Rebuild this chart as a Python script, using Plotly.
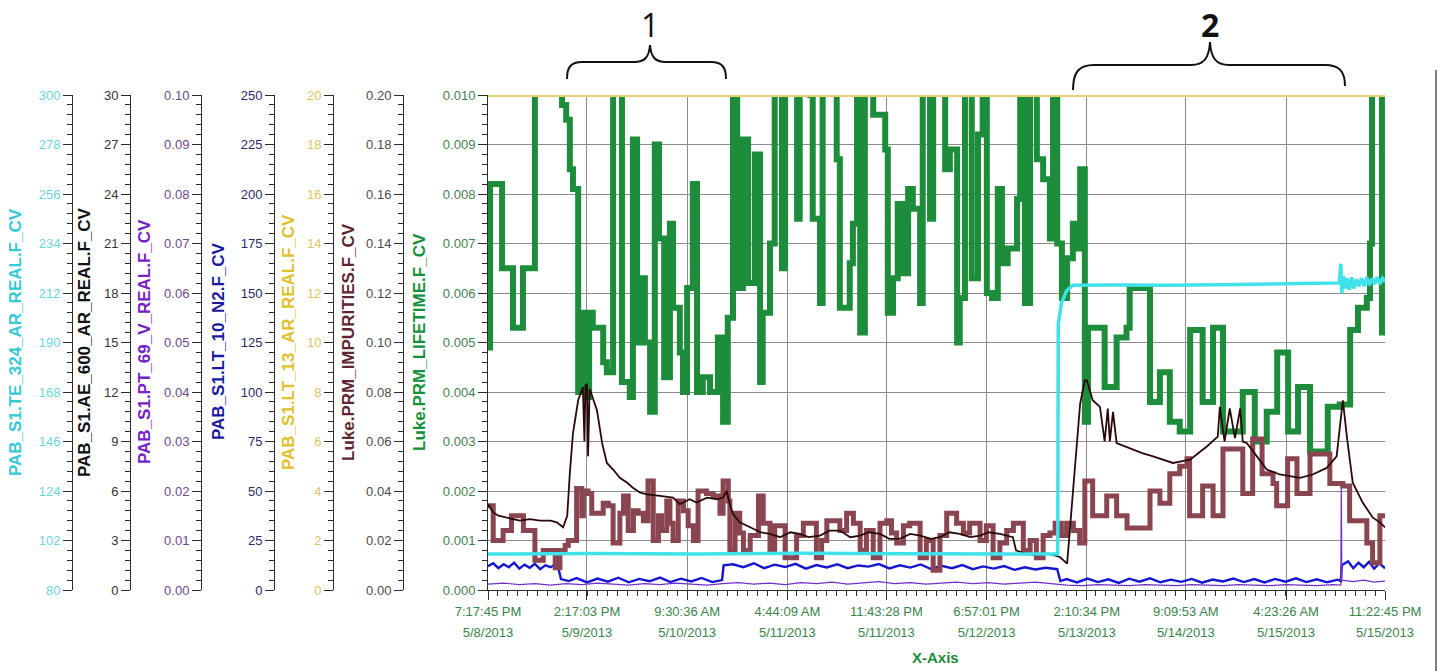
import pandas as pd
import plotly.graph_objects as go

# ---------------------------------------------------------------- data
TIME_FMT = "%m/%d/%Y %I:%M:%S %p"
x_tick_times = ["5/8/2013 7:17:45 PM", "5/9/2013 2:17:03 PM", "5/10/2013 9:30:36 AM",
                "5/11/2013 4:44:09 AM", "5/11/2013 11:43:28 PM", "5/12/2013 6:57:01 PM",
                "5/13/2013 2:10:34 PM", "5/14/2013 9:09:53 AM", "5/15/2013 4:23:26 AM",
                "5/15/2013 11:22:45 PM"]
x_tick_time_labels = ["7:17:45 PM", "2:17:03 PM", "9:30:36 AM", "4:44:09 AM", "11:43:28 PM",
                      "6:57:01 PM", "2:10:34 PM", "9:09:53 AM", "4:23:26 AM", "11:22:45 PM"]
x_tick_date_labels = ["5/8/2013", "5/9/2013", "5/10/2013", "5/11/2013", "5/11/2013",
                      "5/12/2013", "5/13/2013", "5/14/2013", "5/15/2013", "5/15/2013"]

# times are hours after the first tick (7:17:45 PM 5/8/2013)
# Luke.PRM_LIFETIME.F_CV  (axis 0 .. 0.010, values above 0.010 run off the top)
lifetime_t = [0.0, 0.4, 2.7, 4.8, 6.7, 9.0, 14.2, 15.0, 15.7, 16.3, 17.3, 18.2, 18.8, 19.4, 20.1,
              22.1, 22.8, 24.0, 25.7, 27.2, 27.8, 28.6, 29.5, 30.1, 31.1, 32.0, 32.8, 33.8, 34.9,
              35.5, 36.8, 37.4, 38.2, 39.3, 40.1, 41.2, 42.6, 44.1, 45.1, 46.0, 47.0, 47.8, 48.9,
              49.9, 51.2, 52.2, 52.7, 54.1, 55.0, 56.4, 57.0, 59.3, 59.8, 61.8, 62.3, 63.7, 64.2,
              66.9, 67.5, 69.4, 70.0, 70.8, 71.4, 72.3, 73.9, 76.2, 76.7, 77.7, 78.6, 79.6, 80.6,
              81.5, 82.9, 83.4, 84.8, 85.4, 87.7, 88.6, 90.0, 90.5, 91.5, 92.8, 94.0, 94.9, 95.7,
              96.7, 97.8, 98.6, 99.7, 101.5, 102.1, 103.0, 104.0, 105.3, 106.5, 107.8, 108.4,
              109.2, 110.1, 111.1, 112.2, 113.0, 113.6, 114.5, 115.1, 118.3, 120.6, 122.5, 123.1,
              127.0, 128.9, 130.8, 132.7, 134.7, 137.1, 139.1, 141.0, 144.8, 147.1, 149.4, 151.4,
              153.5, 155.4, 157.7, 161.1, 163.4, 165.4, 166.9, 168.6, 169.2, 169.6, 171.5, 172.1]
lifetime_v = [0.0049, 0.0082, 0.0065, 0.0053, 0.0065, 0.0105, 0.0098, 0.0095, 0.0085, 0.0081,
              0.0040, 0.0056, 0.0039, 0.0056, 0.0053, 0.0046, 0.0044, 0.0105, 0.0042, 0.0039,
              0.0091, 0.0050, 0.0063, 0.0050, 0.0036, 0.0090, 0.0071, 0.0043, 0.0074, 0.0057,
              0.0048, 0.0040, 0.0061, 0.0082, 0.0040, 0.0043, 0.0040, 0.0051, 0.0034, 0.0055,
              0.0105, 0.0061, 0.0091, 0.0062, 0.0088, 0.0042, 0.0056, 0.0070, 0.0105, 0.0065,
              0.0105, 0.0075, 0.0105, 0.0100, 0.0075, 0.0058, 0.0105, 0.0087, 0.0057, 0.0066,
              0.0074, 0.0105, 0.0052, 0.0105, 0.0096, 0.0089, 0.0056, 0.0063, 0.0078, 0.0064,
              0.0081, 0.0077, 0.0058, 0.0105, 0.0075, 0.0105, 0.0085, 0.0089, 0.0050, 0.0059,
              0.0105, 0.0063, 0.0092, 0.0105, 0.0060, 0.0059, 0.0081, 0.0066, 0.0069, 0.0079,
              0.0105, 0.0058, 0.0105, 0.0087, 0.0083, 0.0071, 0.0105, 0.0070, 0.0059, 0.0067,
              0.0074, 0.0069, 0.0085, 0.0034, 0.0053, 0.0041, 0.0051, 0.0053, 0.0061, 0.0038,
              0.0044, 0.0034, 0.0032, 0.00525, 0.0038, 0.0053, 0.0032, 0.0040, 0.0030, 0.0036,
              0.0048, 0.0032, 0.0041, 0.0028, 0.0037, 0.00375, 0.00525, 0.0057, 0.0059, 0.0070,
              0.0105, 0.0052, 0.0052]

# Luke.PRM_IMPURITIES.F_CV  (axis 0 .. 0.20)
impurities_t = [0.0, 1.0, 2.9, 4.5, 6.8, 9.0, 10.6, 12.9, 13.8, 14.8, 15.4, 17.0, 18.0, 18.3, 19.2,
                19.9, 22.1, 23.1, 24.0, 25.3, 26.0, 26.9, 27.9, 28.8, 29.8, 30.7, 31.7, 32.7, 33.3,
                34.3, 34.9, 35.5, 36.5, 37.5, 38.4, 39.4, 40.3, 41.9, 43.2, 44.5, 45.1, 46.1, 46.4,
                47.4, 48.3, 49.0, 50.3, 51.9, 52.8, 54.1, 55.0, 57.0, 59.2, 60.5, 63.0, 64.0, 65.0,
                67.5, 68.8, 70.1, 71.4, 72.6, 73.9, 75.2, 76.5, 77.4, 78.4, 79.7, 80.9, 82.9, 84.1,
                85.4, 86.7, 88.0, 89.9, 91.2, 92.4, 94.4, 95.6, 96.9, 98.2, 99.5, 100.8, 102.7,
                104.0, 105.2, 106.5, 107.8, 108.8, 110.0, 111.0, 112.3, 113.5, 114.5, 116.0, 118.7,
                120.6, 122.6, 127.0, 128.9, 130.8, 132.7, 134.1, 134.6, 137.1, 139.1, 141.0, 144.8,
                146.7, 148.5, 150.6, 151.3, 153.4, 155.2, 157.7, 161.5, 164.0, 165.3, 168.6, 169.7,
                171.1, 172.1]
impurities_v = [0.034, 0.020, 0.024, 0.030, 0.024, 0.012, 0.016, 0.009, 0.016, 0.018, 0.020, 0.041,
                0.030, 0.040, 0.039, 0.031, 0.035, 0.034, 0.019, 0.031, 0.038, 0.024, 0.032, 0.031,
                0.028, 0.044, 0.020, 0.030, 0.024, 0.036, 0.027, 0.020, 0.036, 0.032, 0.026, 0.020,
                0.040, 0.039, 0.038, 0.031, 0.044, 0.036, 0.016, 0.031, 0.023, 0.016, 0.022, 0.038,
                0.027, 0.016, 0.026, 0.013, 0.022, 0.027, 0.013, 0.020, 0.028, 0.024, 0.031, 0.027,
                0.016, 0.024, 0.013, 0.027, 0.028, 0.023, 0.019, 0.026, 0.027, 0.013, 0.020, 0.008,
                0.022, 0.031, 0.027, 0.023, 0.027, 0.020, 0.026, 0.013, 0.019, 0.024, 0.027, 0.016,
                0.020, 0.013, 0.022, 0.023, 0.027, 0.022, 0.027, 0.024, 0.019, 0.044, 0.030, 0.038,
                0.030, 0.025, 0.040, 0.035, 0.047, 0.050, 0.053, 0.030, 0.042, 0.030, 0.057, 0.039,
                0.061, 0.047, 0.043, 0.034, 0.053, 0.039, 0.055, 0.043, 0.042, 0.028, 0.019, 0.011,
                0.030, 0.030]

# PAB_S1.AE_600_AR_REAL.F_CV  (axis 0 .. 30)
ae600_t = [0.0, 1.0, 2.0, 3.6, 5.0, 6.1, 8.0, 10.0, 12.0, 13.2, 14.4, 15.2, 15.7, 16.3, 17.3, 18.2,
           18.5, 18.7, 19.0, 19.2, 19.5, 19.9, 20.9, 21.9, 22.8, 24.0, 25.3, 26.7, 27.8, 29.2, 30.5,
           33.0, 35.5, 36.8, 38.7, 40.0, 42.0, 44.0, 45.1, 45.8, 46.4, 47.0, 48.3, 50.3, 52.2, 54.1,
           56.0, 58.0, 59.8, 61.5, 63.7, 65.5, 67.5, 69.5, 71.4, 73.0, 75.2, 77.0, 79.0, 81.0, 82.9,
           85.0, 86.7, 88.5, 90.5, 92.5, 94.4, 96.0, 98.2, 100.7, 101.3, 103.0, 105.3, 107.5, 109.7,
           111.1, 112.2, 113.6, 114.5, 114.9, 116.0, 117.4, 118.3, 118.9, 119.3, 119.9, 120.6,
           123.7, 125.5, 127.6, 129.5, 131.4, 133.0, 134.7, 136.3, 137.9, 140.0, 140.4, 141.3,
           142.3, 143.3, 144.3, 144.8, 145.6, 147.5, 149.4, 151.9, 155.8, 158.2, 160.9, 162.8,
           164.0, 164.8, 165.9, 167.8, 169.7, 171.1, 172.1]
ae600_v = [5.2, 4.7, 4.5, 4.4, 4.3, 4.2, 4.3, 4.2, 4.2, 4.1, 3.8, 4.5, 7.1, 9.5, 11.5, 12.3, 9.0,
           12.4, 12.5, 8.1, 12.2, 11.8, 10.9, 8.9, 7.7, 7.3, 6.8, 6.5, 6.2, 5.9, 5.8, 5.7, 5.6, 5.2,
           5.5, 5.3, 5.6, 5.5, 5.6, 6.0, 5.2, 4.6, 4.1, 3.8, 3.5, 3.4, 3.2, 3.5, 3.4, 3.2, 3.3, 3.6,
           3.6, 3.2, 3.3, 3.5, 3.4, 3.1, 3.1, 3.4, 3.3, 3.1, 3.2, 3.5, 3.4, 3.2, 3.3, 3.5, 3.4, 3.2,
           2.4, 2.2, 2.1, 2.2, 2.0, 1.6, 6.1, 11.3, 12.7, 12.7, 11.5, 11.1, 9.0, 11.0, 9.0, 10.8,
           8.9, 8.5, 8.3, 8.1, 7.9, 7.7, 7.8, 7.9, 8.3, 8.7, 9.3, 11.1, 9.0, 11.0, 9.2, 11.0, 9.0,
           8.9, 8.1, 7.3, 7.0, 6.8, 7.0, 7.4, 8.1, 11.5, 9.2, 6.5, 5.3, 4.4, 4.1, 3.8]

# PAB_S1.TE_324_AR_REAL.F_CV  (axis 80 .. 300)
te324_t = [0.0, 20.0, 40.0, 60.0, 80.0, 100.0, 109.3, 109.4, 110.0, 111.0, 112.2, 120.0, 130.0,
           140.0, 150.0, 160.0, 163.3, 163.6, 163.8, 164.1, 164.4, 164.8, 165.2, 165.7, 166.1,
           166.6, 167.1, 167.6, 168.1, 168.6, 169.1, 169.6, 170.1, 170.6, 171.1, 171.6, 172.1]
te324_v = [96.0, 96.2, 96.0, 96.3, 96.1, 96.2, 96.0, 198.0, 207.5, 213.0, 215.5, 215.6, 215.4,
           215.7, 215.9, 216.3, 216.5, 225.0, 212.0, 219.5, 214.0, 218.5, 213.5, 219.0, 214.0,
           218.0, 215.0, 218.5, 215.0, 219.0, 215.5, 218.5, 216.0, 219.0, 216.0, 218.5, 217.0]

# PAB_S1.LT_10_N2.F_CV  (axis 0 .. 250)
lt10_t = [0, 1, 2, 3, 4, 5, 6, 7, 8, 9, 10, 11, 12, 13, 13.5, 14.0, 15.5, 17, 19, 21, 23, 25, 27,
          29, 31, 33, 35, 37, 39, 41, 43, 44.9, 45.2, 47, 49, 51, 53, 55, 57, 59, 61, 63, 65, 67,
          69, 71, 73, 75, 77, 79, 81, 83, 85, 87, 89, 91, 93, 95, 97, 99, 101, 103, 105, 107,
          109.2, 109.8, 111, 113, 115, 117, 119, 121, 123, 125, 127, 129, 131, 133, 135, 137, 139,
          141, 143, 145, 147, 149, 151, 153, 155, 157, 159, 161, 163, 163.6, 163.8, 165, 166, 167,
          168, 169, 170, 171, 172.1]
lt10_v = [12.0, 13.5, 11.0, 13.0, 11.5, 13.8, 10.8, 12.8, 11.2, 13.2, 10.5, 12.5, 11.5, 13.0,
          11.0, 5.5, 4.5,
          6.0, 3.8, 5.8, 4.2, 6.2, 3.9, 5.6, 4.4, 6.3, 4.0, 5.7, 4.3, 6.1, 4.0,
          5.0, 12.5,
          13.0, 11.5, 13.5, 11.0, 12.8, 11.6, 13.2, 10.8, 12.6, 11.4, 13.0, 11.0, 12.4, 11.8, 13.1,
          10.9, 12.5, 11.3, 12.9, 10.6, 12.2, 11.0, 12.6, 10.5, 11.9, 10.8, 12.1, 10.2, 11.5, 10.4,
          11.2,
          10.5, 4.5,
          5.5, 3.8, 5.8, 4.0, 5.4, 3.6, 5.7, 4.2, 5.9, 3.9, 5.2, 4.1, 5.6, 3.7, 5.3, 4.3, 5.8, 4.0,
          5.5, 3.8, 5.6, 4.2, 5.9, 4.0, 5.4, 3.9, 5.2,
          4.5, 12.5,
          14.5, 11.0, 13.8, 11.5, 14.2, 10.8, 13.5, 11.0]

# PAB_S1.PT_69_V_REAL.F_CV  (axis 0 .. 0.10)
pt69_t = [0, 3, 6, 9, 12, 15, 18, 21, 24, 27, 30, 33, 36, 39, 42, 45, 48, 51, 54, 57, 60, 63, 66,
          69, 72, 75, 78, 81, 84, 87, 90, 93, 96, 99, 102, 105, 108, 111, 114, 117, 120, 123, 126,
          129, 132, 135, 138, 141, 144, 147, 150, 153, 156, 159, 162, 163.6, 163.7, 163.8, 166,
          168, 170, 172.1]
pt69_v = [0.0012, 0.0014, 0.0011, 0.0013, 0.0010, 0.0013, 0.0011, 0.0014, 0.0012, 0.0010,
          0.0013, 0.0011, 0.0014, 0.0012, 0.0010, 0.0013, 0.0015, 0.0012, 0.0014, 0.0011,
          0.0015, 0.0013, 0.0016, 0.0012, 0.0014, 0.0017, 0.0013, 0.0015, 0.0012, 0.0014,
          0.0016, 0.0013, 0.0015, 0.0012, 0.0014, 0.0016, 0.0013, 0.0010, 0.0009, 0.0011,
          0.0010, 0.0009, 0.0011, 0.0010, 0.0009, 0.0011, 0.0010, 0.0009, 0.0011, 0.0010,
          0.0009, 0.0011, 0.0010, 0.0009, 0.0011,
          0.0010, 0.0216, 0.0020, 0.0017, 0.0020, 0.0016, 0.0018]

# PAB_S1.LT_13_AR_REAL.F_CV  (axis 0 .. 20)
lt13_t = [0.0, 172.1]
lt13_v = [20.0, 20.0]

for a, b in [(lifetime_t, lifetime_v), (impurities_t, impurities_v), (ae600_t, ae600_v),
             (te324_t, te324_v), (lt10_t, lt10_v), (pt69_t, pt69_v), (lt13_t, lt13_v)]:
    assert len(a) == len(b), (len(a), len(b))

# ---------------------------------------------------------------- helpers
W, H = 1446, 671
FONT = "Liberation Sans, Arial, sans-serif"
PLOT_L, PLOT_R, PLOT_T, PLOT_B = 488, 1385, 95, 590


def fx(p):
    return p / W


def fy(p):
    return 1 - p / H


tick_dt = pd.to_datetime(x_tick_times, format=TIME_FMT)
tickvals = tick_dt.strftime("%Y-%m-%d %H:%M:%S").tolist()
base = tick_dt[0]


def to_time(hours):
    return (base + pd.to_timedelta(hours, unit="h")).strftime("%Y-%m-%d %H:%M:%S").tolist()


minor_ms = (tick_dt[-1] - tick_dt[0]).total_seconds() * 1000 / 90.0

dom_x = [fx(PLOT_L), fx(PLOT_R)]
dom_y = [fy(PLOT_B), fy(PLOT_T)]
AXC = "#2b2b2b"
GRID = "#8c8c8c"

fig = go.Figure()

series = [
    # name, t, v, x axis, y axis, color, width, shape
    ("Luke.PRM_LIFETIME.F_CV", lifetime_t, lifetime_v, "x", "y", "#1d8d3b", 6, "hv"),
    ("PAB_S1.LT_10_N2.F_CV", lt10_t, lt10_v, "x", "y2", "#1616d0", 2.4, "linear"),
    ("PAB_S1.PT_69_V_REAL.F_CV", pt69_t, pt69_v, "x", "y3", "#7030c8", 1.2, "linear"),
    ("Luke.PRM_IMPURITIES.F_CV", impurities_t, impurities_v, "x", "y4", "#8a4650", 5, "hv"),
    ("PAB_S1.AE_600_AR_REAL.F_CV", ae600_t, ae600_v, "x", "y5", "#2a0909", 1.8, "linear"),
    ("PAB_S1.TE_324_AR_REAL.F_CV", te324_t, te324_v, "x", "y6", "#3fe2ea", 3.5, "linear"),
    ("PAB_S1.LT_13_AR_REAL.F_CV", lt13_t, lt13_v, "x2", "y7", "#e8d070", 4, "linear"),
]
for name, t, v, xa, ya, col, wdt, shp in series:
    fig.add_trace(go.Scatter(x=to_time(t), y=v, name=name, mode="lines", xaxis=xa, yaxis=ya,
                             line=dict(color=col, width=wdt, shape=shp),
                             showlegend=False, hoverinfo="skip"))


def yaxis(rng, tick0, dtick, mdtick, fmt, tick_color, pos=None, grid=False):
    d = dict(range=rng, tick0=tick0, dtick=dtick, tickmode="linear", tickformat=fmt,
             ticks="outside", ticklen=9, tickwidth=1, tickcolor=AXC,
             showline=True, linecolor=AXC, linewidth=1, zeroline=False,
             showgrid=grid, gridcolor=GRID, gridwidth=1, domain=dom_y,
             tickfont=dict(family=FONT, size=13, color=tick_color),
             minor=dict(ticks="outside", ticklen=5, tickwidth=1, tickcolor=AXC,
                        tick0=tick0, dtick=mdtick, showgrid=False),
             automargin=False, fixedrange=True, side="left")
    if pos is None:
        d["anchor"] = "x"
    else:
        d.update(anchor="free", overlaying="y", position=fx(pos))
    return d


# axis: (layout key, range, tick0, dtick, minor dtick, format, tick colour, spine px)
axes_spec = [
    ("yaxis", [0, 0.010], 0, 0.001, 0.0002, ".3f", "#3f7f50", None),
    ("yaxis2", [0, 250], 0, 25, 5, "d", "#2a2a6a", 274),
    ("yaxis3", [0, 0.10], 0, 0.01, 0.002, ".2f", "#6b4a8c", 201),
    ("yaxis4", [0, 0.20], 0, 0.02, 0.004, ".2f", "#4e4a4e", 403),
    ("yaxis5", [0, 30], 0, 3, 0.6, "d", "#333333", 130),
    ("yaxis6", [80, 300], 80, 22, 4.4, "d", "#6fd4dc", 72),
    ("yaxis7", [0, 20], 0, 2, 0.4, "d", "#d8c662", 333),
]
layout_axes = {}
for key, rng, t0, dt, mdt, fmt, tc, pos in axes_spec:
    layout_axes[key] = yaxis(rng, t0, dt, mdt, fmt, tc, pos, grid=(pos is None))

XTICK = "#3a844c"
layout_axes["xaxis"] = dict(
    type="date", domain=dom_x, range=[tickvals[0], tickvals[-1]], anchor="y",
    tickmode="array", tickvals=tickvals, ticktext=x_tick_time_labels,
    ticks="outside", ticklen=9, tickwidth=1, tickcolor=AXC,
    showline=True, linecolor=AXC, linewidth=1, zeroline=False,
    showgrid=True, gridcolor=GRID, gridwidth=1,
    tickfont=dict(family=FONT, size=13, color=XTICK),
    minor=dict(ticks="outside", ticklen=5, tickwidth=1, tickcolor=AXC,
               tick0=tickvals[0], dtick=minor_ms, showgrid=False),
    automargin=False, fixedrange=True)
layout_axes["xaxis2"] = dict(
    type="date", domain=dom_x, range=[tickvals[0], tickvals[-1]], overlaying="x",
    anchor="free", position=fy(PLOT_B + 21), side="bottom",
    tickmode="array", tickvals=tickvals, ticktext=x_tick_date_labels,
    ticks="outside", ticklen=9, tickcolor="rgba(0,0,0,0)",
    showline=False, showgrid=False, zeroline=False,
    tickfont=dict(family=FONT, size=13, color=XTICK),
    automargin=False, fixedrange=True)

# rotated axis titles
titles = [
    ("PAB_S1.TE_324_AR_REAL.F_CV", 15, "#35c9d4"),
    ("PAB_S1.AE_600_AR_REAL.F_CV", 84, "#111111"),
    ("PAB_S1.PT_69_V_REAL.F_CV", 144, "#7422c6"),
    ("PAB_S1.LT_10_N2.F_CV", 218, "#1a1aa0"),
    ("PAB_S1.LT_13_AR_REAL.F_CV", 288, "#e0c02c"),
    ("Luke.PRM_IMPURITIES.F_CV", 348, "#5e2535"),
    ("Luke.PRM_LIFETIME.F_CV", 419, "#14903a"),
]
annotations = []
for txt, xp, col in titles:
    annotations.append(dict(text="<b>%s</b>" % txt, x=fx(xp), y=fy(342), xref="paper",
                            yref="paper", textangle=-90, showarrow=False,
                            xanchor="center", yanchor="middle",
                            font=dict(family=FONT, size=17, color=col)))
annotations.append(dict(text="<b>X-Axis</b>", x=fx(935), y=fy(657), xref="paper",
                        yref="paper", showarrow=False, xanchor="center", yanchor="middle",
                        font=dict(family=FONT, size=15, color="#1e8a3c")))
annotations.append(dict(text="1", x=fx(650), y=fy(25), xref="paper", yref="paper",
                        showarrow=False, xanchor="center", yanchor="middle",
                        font=dict(family="Open Sans, sans-serif", size=32, color="#111111")))
annotations.append(dict(text="<b>2</b>", x=fx(1210), y=fy(25), xref="paper", yref="paper",
                        showarrow=False, xanchor="center", yanchor="middle",
                        font=dict(family="Open Sans, sans-serif", size=32, color="#111111")))


def path(cmds):
    out = []
    for c, pts in cmds:
        out.append(c + " " + " ".join("%.5f,%.5f" % (fx(a), fy(b)) for a, b in pts))
    return " ".join(out)


brace1 = [("M", [(567, 79)]), ("C", [(567, 67), (571, 62), (582, 62)]), ("L", [(634, 62)]),
          ("C", [(645, 62), (649, 57), (650, 45)]), ("C", [(651, 57), (655, 62), (666, 62)]),
          ("L", [(711, 62)]), ("C", [(722, 62), (726, 67), (726, 79)])]
brace2 = [("M", [(1073, 90)]), ("C", [(1073, 72), (1079, 65), (1094, 65)]), ("L", [(1191, 65)]),
          ("C", [(1204, 65), (1209, 58), (1210, 42)]), ("C", [(1211, 58), (1216, 65), (1229, 65)]),
          ("L", [(1325, 65)]), ("C", [(1339, 65), (1345, 71), (1345, 86)])]
shapes = [
    dict(type="path", path=path(brace1), xref="paper", yref="paper",
         line=dict(color="#111111", width=2)),
    dict(type="path", path=path(brace2), xref="paper", yref="paper",
         line=dict(color="#111111", width=2)),
    dict(type="line", xref="paper", yref="paper", x0=fx(1436), x1=fx(1436), y0=fy(70), y1=0,
         line=dict(color="#7d7d7d", width=2)),
]

fig.update_layout(
    width=W, height=H, margin=dict(l=0, r=0, t=0, b=0, pad=0),
    paper_bgcolor="white", plot_bgcolor="white", showlegend=False,
    annotations=annotations, shapes=shapes, **layout_axes)

fig.write_html("out.html",
               config={"displayModeBar": False, "staticPlot": True},
               post_script="document.body.style.margin='0';"
                           "document.body.style.overflow='hidden';")
